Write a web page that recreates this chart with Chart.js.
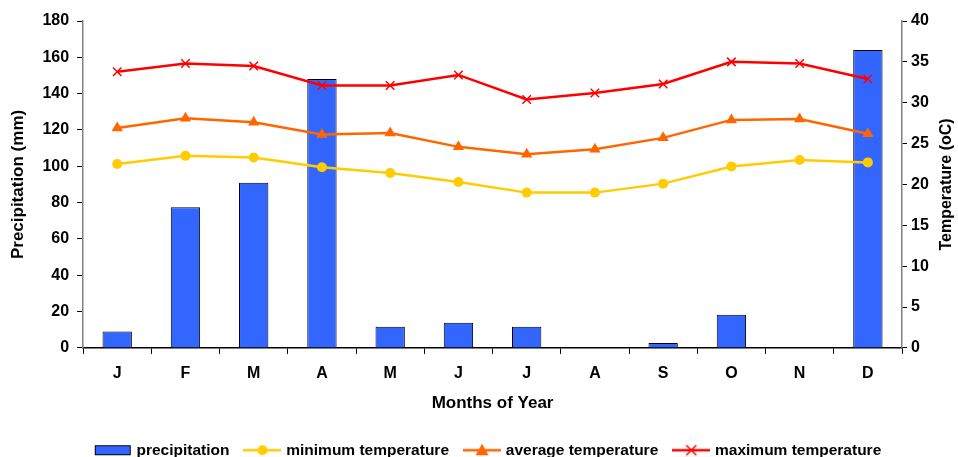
<!DOCTYPE html>
<html><head><meta charset="utf-8">
<script src="https://cdn.jsdelivr.net/npm/chart.js@4"></script>
<style>html,body{margin:0;padding:0;background:#fff;overflow:hidden}#wrap{width:958px;height:457px}</style>
</head><body><div id="wrap"><canvas id="c" width="958" height="457"></canvas></div>
<script>
const months = ['J','F','M','A','M','J','J','A','S','O','N','D'];
const precipitation = [9, 77.5, 91, 148, 11.7, 13.9, 11.7, 0, 2.7, 18.3, 0, 164];
const minTemp = [22.5, 23.5, 23.3, 22.1, 21.4, 20.3, 19.0, 19.0, 20.1, 22.2, 23.0, 22.7];
const avgTemp = [26.9, 28.1, 27.6, 26.1, 26.3, 24.6, 23.7, 24.3, 25.7, 27.9, 28.0, 26.2];
const maxTemp = [33.8, 34.8, 34.5, 32.1, 32.1, 33.4, 30.4, 31.2, 32.3, 35.0, 34.8, 32.9];
const precipTicks = [0, 20, 40, 60, 80, 100, 120, 140, 160, 180];
const tempTicks = [0, 5, 10, 15, 20, 25, 30, 35, 40];

const FONT = "'Liberation Sans', Arial, sans-serif";
const BLUE = '#3366FF', YELLOW = '#FFCC00', ORANGE = '#FF6600', RED = '#FF0000';

function icon(kind, color) {
  const c = document.createElement('canvas');
  c.width = 38; c.height = 14;
  const g = c.getContext('2d');
  const cy = 7;
  if (kind === 'bar') {
    g.fillStyle = BLUE; g.fillRect(1.5, 2.5, 35, 9);
    g.strokeStyle = '#000'; g.lineWidth = 1; g.strokeRect(1.5, 2.5, 35, 9);
    return c;
  }
  g.strokeStyle = color; g.lineWidth = 2.5;
  g.beginPath(); g.moveTo(0, cy); g.lineTo(38, cy); g.stroke();
  g.fillStyle = color;
  if (kind === 'circle') { g.beginPath(); g.arc(19, cy, 5, 0, Math.PI * 2); g.fill(); }
  if (kind === 'triangle') { g.beginPath(); g.moveTo(19, 0.5); g.lineTo(25.5, 12); g.lineTo(12.5, 12); g.closePath(); g.fill(); }
  if (kind === 'cross') {
    g.lineWidth = 1.5; g.beginPath();
    g.moveTo(14, 2); g.lineTo(24, 12); g.moveTo(24, 2); g.lineTo(14, 12); g.stroke();
  }
  return c;
}

function vTitle(ctx, text, x, y, size) {
  ctx.save();
  ctx.translate(x, y);
  ctx.rotate(-Math.PI / 2);
  ctx.font = 'bold ' + size + 'px ' + FONT;
  ctx.fillStyle = '#000';
  ctx.textAlign = 'center';
  ctx.textBaseline = 'middle';
  ctx.fillText(text, 0, 0);
  ctx.restore();
}

const axisTitles = {
  id: 'axisTitles',
  afterDraw(chart) {
    const a = chart.chartArea;
    const cy = (a.top + a.bottom) / 2;
    vTitle(chart.ctx, 'Precipitation (mm)', 18, cy, 17);
    vTitle(chart.ctx, 'Temperature (oC)', 947, cy, 16);
  }
};

new Chart(document.getElementById('c'), {
  type: 'bar',
  data: {
    labels: months,
    datasets: [
      { label: 'precipitation', data: precipitation, yAxisID: 'y', order: 1,
        backgroundColor: BLUE, borderColor: '#000', borderWidth: 1,
        barPercentage: 0.43, categoryPercentage: 1 },
      { type: 'line', label: 'minimum temperature', data: minTemp, yAxisID: 'y1', order: 0,
        borderColor: YELLOW, backgroundColor: YELLOW, borderWidth: 2.5,
        pointStyle: 'circle', pointRadius: 5, pointBorderWidth: 0, tension: 0 },
      { type: 'line', label: 'average temperature', data: avgTemp, yAxisID: 'y1', order: 0,
        borderColor: ORANGE, backgroundColor: ORANGE, borderWidth: 2.5,
        pointStyle: 'triangle', pointRadius: 6.5, pointBorderWidth: 0, tension: 0 },
      { type: 'line', label: 'maximum temperature', data: maxTemp, yAxisID: 'y1', order: 0,
        borderColor: RED, backgroundColor: RED, borderWidth: 2.5,
        pointStyle: 'crossRot', pointRadius: 6, pointBorderWidth: 1.5, tension: 0 }
    ]
  },
  options: {
    responsive: false,
    animation: false,
    devicePixelRatio: 1,
    layout: { padding: { top: 21, left: 22, right: 2, bottom: -11 } },
    plugins: {
      tooltip: { enabled: false },
      legend: {
        position: 'bottom',
        labels: {
          usePointStyle: true,
          pointStyleWidth: 32,
          boxHeight: 14,
          padding: 17,
          color: '#000',
          font: { family: FONT, size: 15.5, weight: 'bold' },
          generateLabels(chart) {
            const kinds = [['bar', BLUE], ['circle', YELLOW], ['triangle', ORANGE], ['cross', RED]];
            return chart.data.datasets.map((d, i) => ({
              text: d.label, datasetIndex: i, pointStyle: icon(kinds[i][0], kinds[i][1]),
              fillStyle: 'transparent', strokeStyle: 'transparent', lineWidth: 0, hidden: false
            }));
          }
        }
      }
    },
    scales: {
      x: {
        offset: true,
        grid: { display: true, offset: true, drawOnChartArea: false, tickLength: 6, color: '#000' },
        border: { color: '#000', width: 1.5 },
        ticks: { color: '#000', padding: 10, font: { family: FONT, size: 16, weight: 'bold' } },
        title: { display: true, text: 'Months of Year', color: '#000', padding: { top: 0, bottom: 12 },
          font: { family: FONT, size: 17, weight: 'bold' } }
      },
      y: {
        position: 'left', min: 0, max: 180,
        afterBuildTicks(s) { s.ticks = precipTicks.map(v => ({ value: v })); },
        grid: { display: true, drawOnChartArea: false, tickLength: 6, color: '#000' },
        border: { color: '#808080', width: 1.5 },
        ticks: { color: '#000', padding: 8, font: { family: FONT, size: 16, weight: 'bold' } },
        title: { display: true, text: 'Precipitation (mm)', color: 'rgba(0,0,0,0)', padding: { top: 0, bottom: 2.8 },
          font: { family: FONT, size: 8, weight: 'bold' } }
      },
      y1: {
        position: 'right', min: 0, max: 40,
        afterBuildTicks(s) { s.ticks = tempTicks.map(v => ({ value: v })); },
        grid: { display: true, drawOnChartArea: false, tickLength: 5, color: '#000' },
        border: { color: '#808080', width: 1.5 },
        ticks: { color: '#000', padding: 4, font: { family: FONT, size: 16, weight: 'bold' } },
        title: { display: true, text: 'Temperature (oC)', color: 'rgba(0,0,0,0)', padding: { top: 2, bottom: 2 },
          font: { family: FONT, size: 16, weight: 'bold' } }
      }
    }
  },
  plugins: [axisTitles]
});
</script>
</body></html>
